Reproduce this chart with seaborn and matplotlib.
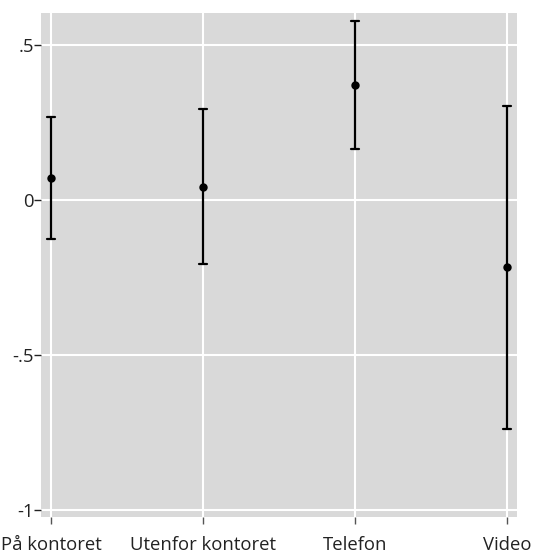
import numpy as np
import pandas as pd
import matplotlib
matplotlib.use("Agg")
import matplotlib.pyplot as plt
import seaborn as sns

categories = ["På kontoret", "Utenfor kontoret", "Telefon", "Video"]
estimates = [0.070, 0.042, 0.371, -0.216]
ci_low = [-0.125, -0.206, 0.165, -0.738]
ci_high = [0.266, 0.294, 0.577, 0.303]
y_ticks = [0.5, 0.0, -0.5, -1.0]
y_tick_labels = [".5", "0", "-.5", "-1"]

rows = []
for c, e, lo, hi in zip(categories, estimates, ci_low, ci_high):
    for v in (lo, e, hi):
        rows.append({"cat": c, "val": v})
df = pd.DataFrame(rows)

sns.set_theme(style="darkgrid")
plt.rcParams["font.family"] = ["Open Sans", "DejaVu Sans"]

fig = plt.figure(figsize=(5.44, 5.55), dpi=100)
ax = fig.add_axes([41/544, 1-517/555, (517-41)/544, (517-13)/555])
ax.set_facecolor("#d9d9d9")

sns.pointplot(data=df, x="cat", y="val", order=categories,
              estimator=np.median,
              errorbar=lambda x: (x.min(), x.max()),
              color="black", linestyle="none", markersize=4,
              capsize=0.05, err_kws={"linewidth": 1.6}, ax=ax)

ax.set_xlim(-0.066, 3.066)
ax.set_ylim(-1.023, 0.603)
ax.set_yticks(y_ticks)
ax.set_yticklabels(y_tick_labels)
ax.set_xlabel("")
ax.set_ylabel("")
ax.grid(True, color="white", linewidth=1.5)
for s in ax.spines.values():
    s.set_visible(False)
ax.tick_params(axis="both", which="both", length=5, width=1, color="#222222",
               labelsize=13.3, labelcolor="#222222", pad=0, left=True, bottom=True)
ax.tick_params(axis="x", pad=9, color="#555555")

fig.savefig("out.png", dpi=100)
